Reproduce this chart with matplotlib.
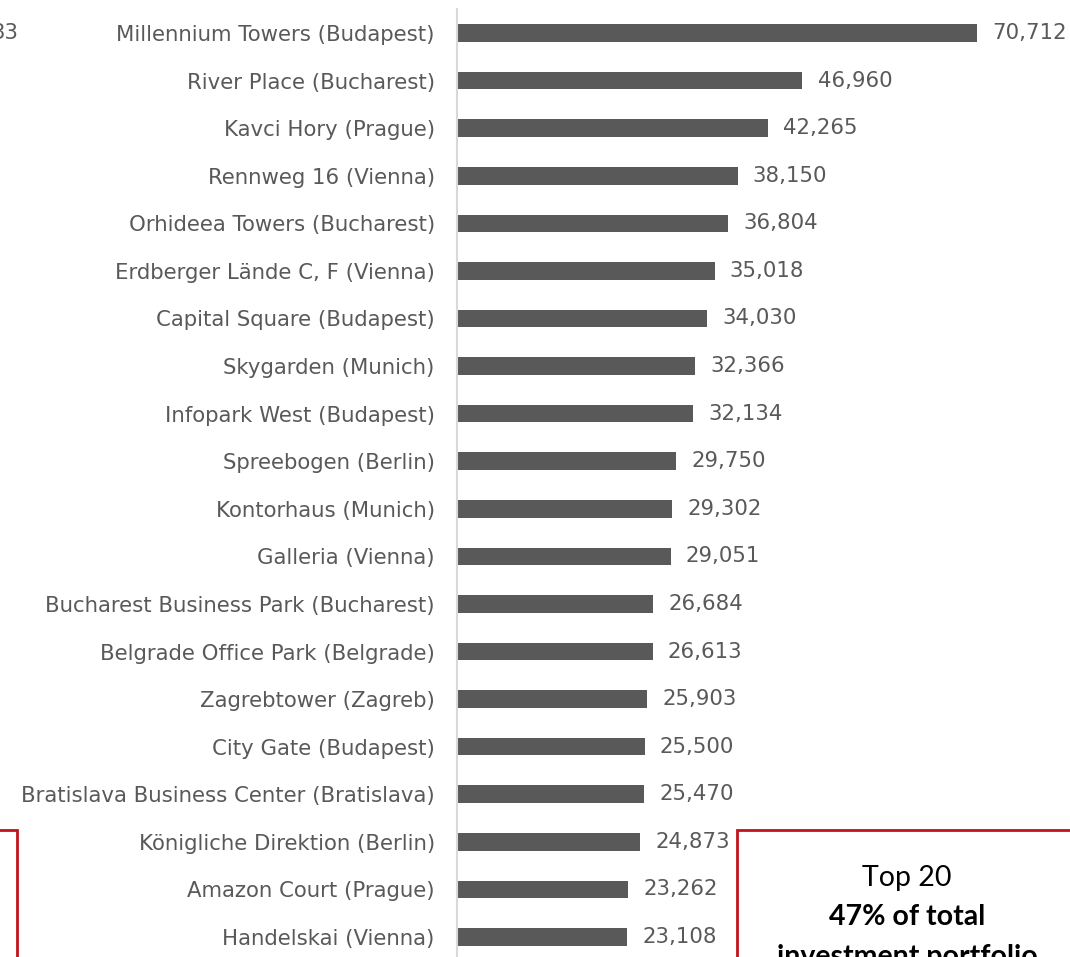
import matplotlib
matplotlib.use("Agg")
import matplotlib.pyplot as plt
from matplotlib.patches import Rectangle

# ----------------------------------------------------
# Data
# ----------------------------------------------------
properties = [
    "Millennium Towers (Budapest)",
    "River Place (Bucharest)",
    "Kavci Hory (Prague)",
    "Rennweg 16 (Vienna)",
    "Orhideea Towers (Bucharest)",
    "Erdberger Lände C, F (Vienna)",
    "Capital Square (Budapest)",
    "Skygarden (Munich)",
    "Infopark West (Budapest)",
    "Spreebogen (Berlin)",
    "Kontorhaus (Munich)",
    "Galleria (Vienna)",
    "Bucharest Business Park (Bucharest)",
    "Belgrade Office Park (Belgrade)",
    "Zagrebtower (Zagreb)",
    "City Gate (Budapest)",
    "Bratislava Business Center (Bratislava)",
    "Königliche Direktion (Berlin)",
    "Amazon Court (Prague)",
    "Handelskai (Vienna)",
]
rentable_area = [
    70712, 46960, 42265, 38150, 36804, 35018, 34030, 32366, 32134, 29750,
    29302, 29051, 26684, 26613, 25903, 25500, 25470, 24873, 23262, 23108,
]

GREY = "#595959"
RED = "#c0141c"
FS = 15.3

W, H = 1070, 957
fig = plt.figure(figsize=(W / 100, H / 100), dpi=100)

# axes placed in pixel terms: axis line at x=457, 520 px for 70,712
xmax = 80000
ax_w = xmax * 520 / 70712
row = 47.58
top_px = 33 - row / 2
bottom_px = 937 + row / 2
ax = fig.add_axes([457 / W, (H - bottom_px) / H, ax_w / W, (bottom_px - top_px) / H])

y = list(range(len(properties)))
bars = ax.barh(y, rentable_area, height=0.37, color=GREY)
ax.bar_label(bars, labels=[f"{v:,}" for v in rentable_area], padding=11,
             color=GREY, fontsize=FS)

ax.set_yticks(y)
ax.set_yticklabels(properties, fontsize=FS, color=GREY)
ax.tick_params(axis="y", length=0, pad=16)
ax.set_xlim(0, xmax)
ax.set_ylim(len(properties) - 0.5, -0.5)
ax.set_xticks([])
for side in ["top", "right", "bottom"]:
    ax.spines[side].set_visible(False)
ax.spines["left"].set_color("#d9d9d9")
ax.spines["left"].set_linewidth(1.5)

# clipped label from a neighbouring chart
fig.text(18 / W, 1 - 33 / H, "33", ha="right", va="center", fontsize=FS, color=GREY)

# callout boxes (partly off the canvas)
fig.patches.append(Rectangle((-100 / W, -100 / H), 117 / W, (H - 830 + 100) / H,
                             transform=fig.transFigure, fill=False,
                             edgecolor=RED, linewidth=2))
fig.patches.append(Rectangle((737 / W, -100 / H), 500 / W, (H - 830 + 100) / H,
                             transform=fig.transFigure, fill=False,
                             edgecolor=RED, linewidth=2))

fig.text(907 / W, 1 - 878 / H, "Top 20", ha="center", va="center",
         fontsize=20.5, family="Lato", color="black")
fig.text(907 / W, 1 - 917 / H, "47% of total", ha="center", va="center",
         fontsize=20.5, family="Lato", weight="bold", color="black")
fig.text(907 / W, 1 - 957 / H, "investment portfolio", ha="center", va="center",
         fontsize=20.5, family="Lato", weight="bold", color="black")

fig.savefig("out.png", dpi=100)
